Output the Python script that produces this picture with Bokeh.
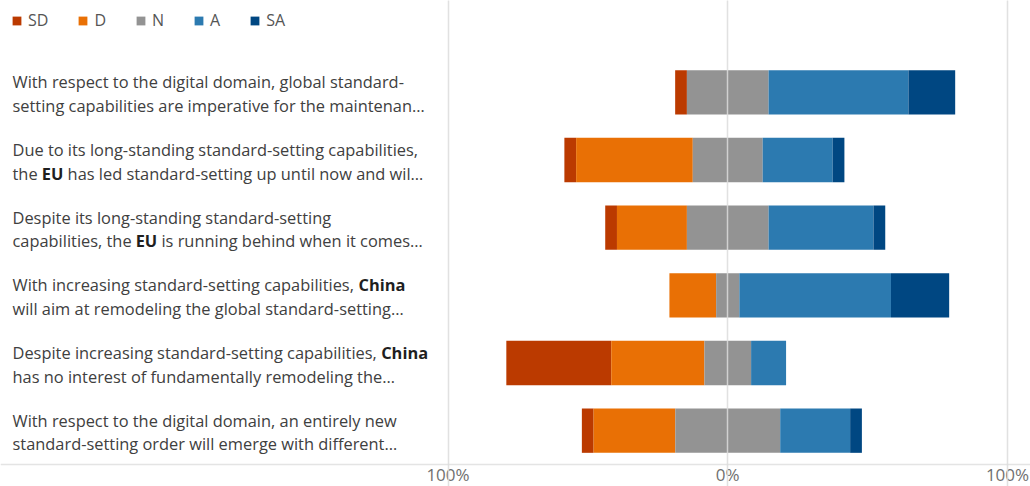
from bokeh.plotting import figure
from bokeh.models import (ColumnDataSource, FixedTicker, Grid, Label, Legend, LegendItem, Range1d)
from bokeh.core.properties import value
from bokeh.embed import file_html
from bokeh.resources import INLINE

# ---------------- data ----------------
statements = [
    ["With respect to the digital domain, global standard-",
     "setting capabilities are imperative for the maintenan\u2026"],
    ["Due to its long-standing standard-setting capabilities,",
     "the **EU** has led standard-setting up until now and wil\u2026"],
    ["Despite its long-standing standard-setting",
     "capabilities, the **EU** is running behind when it comes\u2026"],
    ["With increasing standard-setting capabilities, **China**",
     "will aim at remodeling the global standard-setting\u2026"],
    ["Despite increasing standard-setting capabilities, **China**",
     "has no interest of fundamentally remodeling the\u2026"],
    ["With respect to the digital domain, an entirely new",
     "standard-setting order will emerge with different\u2026"],
]
levels = ["SD", "D", "N", "A", "SA"]
SD = [4.2, 4.2, 4.2, 0.0, 37.5, 4.2]
D = [0.0, 41.7, 25.0, 16.7, 33.3, 29.2]
N = [29.2, 25.0, 29.2, 8.3, 16.7, 37.5]
A = [50.0, 25.0, 37.5, 54.2, 12.5, 25.0]
SA = [16.7, 4.2, 4.2, 20.8, 0.0, 4.2]
tick_values = [-100, 0, 100]
tick_labels = ["100%", "0%", "100%"]

colors = ["#BB3A00", "#E97005", "#939393", "#2C7AB0", "#004782"]
FONT = "Open Sans"
TXT = "#404040"

n = len(statements)
ypos = [n - i for i in range(n)]
series = [SD, D, N, A, SA]

# diverging stack positions
data = {"y": ypos}
cur = [-(SD[i] + D[i] + N[i] / 2.0) for i in range(n)]
for lvl, vals in zip(levels, series):
    data[lvl + "_l"] = list(cur)
    cur = [cur[i] + vals[i] for i in range(n)]
    data[lvl + "_r"] = list(cur)
src = ColumnDataSource(data)

# layout: frame covers whole canvas; -100% at px 447.5, +100% at px 1007;
# plot area from px 58 (top) to px 464 (bottom)
W, H = 1030, 486
TOP, BOT = 58, 464
PX_PER_UNIT = (1007 - 447.5) / 200.0
x0 = -100 - 447.5 / PX_PER_UNIT
x1 = 100 + (W - 1007) / PX_PER_UNIT
ROW_PX = (BOT - TOP) / n
y_bot = 0.5 - (H - BOT) / ROW_PX
y_top = n + 0.5 + TOP / ROW_PX

p = figure(width=W, height=H, x_range=Range1d(x0, x1), y_range=Range1d(y_bot, y_top),
           output_backend="svg", toolbar_location=None,
           x_axis_location=None, y_axis_location=None,
           min_border_left=0, min_border_right=0, min_border_top=0, min_border_bottom=0)
p.outline_line_color = None
for g in list(p.xgrid) + list(p.ygrid):
    g.visible = False

renderers = []
for lvl, col in zip(levels, colors):
    r = p.hbar(y="y", left=lvl + "_l", right=lvl + "_r", height=0.655, source=src,
               fill_color=col, line_color=None)
    renderers.append(r)

# vertical guide lines (drawn above bars) and bottom base line
vgrid = Grid(dimension=0, ticker=FixedTicker(ticks=tick_values), bounds=(0.5, n + 0.5),
             grid_line_color="#dcdcdc", grid_line_alpha=0.85, grid_line_width=1.5, level="overlay")
hgrid = Grid(dimension=1, ticker=FixedTicker(ticks=[0.5]),
             bounds=(tick_values[0], tick_values[-1]),
             grid_line_color="#e4e4e4", grid_line_width=1.5)
p.add_layout(vgrid)
p.add_layout(hgrid)

# tick labels
tsrc = ColumnDataSource(dict(x=tick_values, y=[0.5] * len(tick_values), t=tick_labels))
p.text(x="x", y="y", text="t", source=tsrc, text_align="center", text_baseline="middle",
       y_offset=10, text_font=value(FONT), text_font_size="17px", text_color="#707070")

legend = Legend(items=[LegendItem(label=l, renderers=[r]) for l, r in zip(levels, renderers)],
                orientation="horizontal", location=(11, H - 15 - 16),
                glyph_width=11, glyph_height=11, label_standoff=6, spacing=29,
                label_width=0, label_height=16,
                padding=0, margin=0, border_line_color=None, background_fill_alpha=0,
                label_text_font=FONT, label_text_font_size="16px", label_text_color="#555555")
p.add_layout(legend, "center")

# ---------------- statement labels (with bold words) ----------------
W_REG = {' ': .26, ',': .245, '-': .322, '.': .266, '\u2026': .8,
         'a': .556, 'b': .613, 'c': .476, 'd': .613, 'e': .561, 'f': .339, 'g': .548, 'h': .614,
         'i': .253, 'j': .253, 'k': .525, 'l': .253, 'm': .930, 'n': .614, 'o': .604, 'p': .613,
         'q': .613, 'r': .408, 's': .477, 't': .353, 'u': .614, 'v': .501, 'w': .778, 'x': .524,
         'y': .502, 'z': .477, 'C': .631, 'D': .729, 'E': .556, 'U': .733, 'W': .948}
W_BOLD = {'C': .641, 'h': .662, 'i': .291, 'n': .662, 'a': .598, 'E': .565, 'U': .747}
FS = 16.4


def width(s, bold=False):
    tot = 0.0
    for ch in s:
        if bold and ch in W_BOLD:
            tot += W_BOLD[ch]
        else:
            tot += W_REG.get(ch, .55) * (1.06 if bold else 1.0)
    return tot * FS


def segments(line):
    parts = line.split("**")
    return [(t, k % 2 == 1) for k, t in enumerate(parts) if t]


for i, (l1, l2) in enumerate(statements):
    for line, off in ((l1, 10.5), (l2, -13.0)):
        x = 12.0
        for t, bold in segments(line):
            lead = len(t) - len(t.lstrip(" "))
            x += width(" " * lead, bold)
            t = t.lstrip(" ")
            p.add_layout(Label(x=x, y=ypos[i], x_units="screen", y_units="data", y_offset=off,
                               text=t, text_baseline="middle", text_align="left",
                               text_font=FONT, text_font_size=f"{FS}px",
                               text_font_style="bold" if bold else "normal",
                               text_color="#1f1f1f" if bold else TXT))
            x += width(t, bold)

open("out.html", "w").write(file_html(p, INLINE))
